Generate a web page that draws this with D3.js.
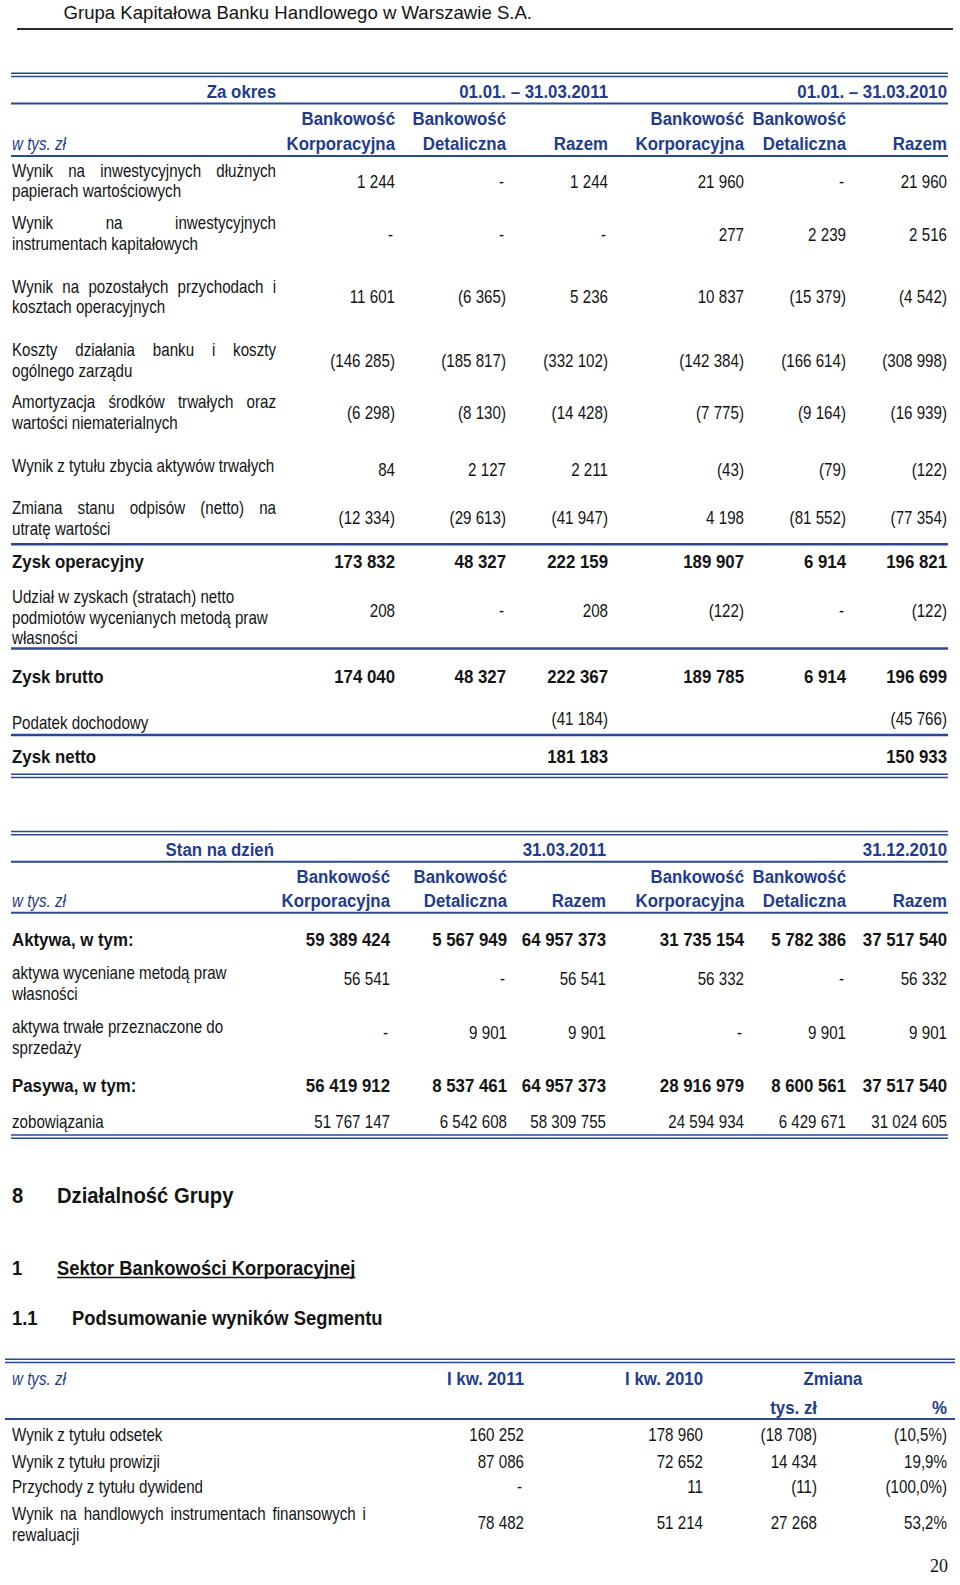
<!DOCTYPE html>
<meta charset="utf-8">
<head>
    <title>Grupa Kapitałowa Banku Handlowego - segmenty</title>
    <script src="https://d3js.org/d3.v7.min.js"></script>
    <style>
    body { margin: 0; background: #fff; }
    svg text { font-family: "Liberation Sans", Arial, sans-serif; }
    </style>
</head>
<body>
<script>

// ---- data: table 1 (rachunek wyników wg segmentów) ----
var t1Title = "Za okres";
var t1Periods = ["01.01. – 31.03.2011", "01.01. – 31.03.2010"];
var segHead1 = ["Bankowość", "Bankowość", ""];
var segHead2 = ["Korporacyjna", "Detaliczna", "Razem"];
var unitLabel = "w tys. zł";
var t1Labels = [
  "Wynik na inwestycyjnych dłużnych|papierach wartościowych",
  "Wynik na inwestycyjnych|instrumentach kapitałowych",
  "Wynik na pozostałych przychodach i|kosztach operacyjnych",
  "Koszty działania banku i koszty|ogólnego zarządu",
  "Amortyzacja środków trwałych oraz|wartości niematerialnych",
  "Wynik z tytułu zbycia aktywów trwałych",
  "Zmiana stanu odpisów (netto) na|utratę wartości",
  "Zysk operacyjny",
  "Udział w zyskach (stratach) netto|podmiotów wycenianych metodą praw|własności",
  "Zysk brutto",
  "Podatek dochodowy",
  "Zysk netto"
];
// 0 = "-", null = empty cell
var t1Korp2011  = [1244, 0, 11601, -146285, -6298, 84, -12334, 173832, 208, 174040, null, null];
var t1Det2011   = [0, 0, -6365, -185817, -8130, 2127, -29613, 48327, 0, 48327, null, null];
var t1Razem2011 = [1244, 0, 5236, -332102, -14428, 2211, -41947, 222159, 208, 222367, -41184, 181183];
var t1Korp2010  = [21960, 277, 10837, -142384, -7775, -43, 4198, 189907, -122, 189785, null, null];
var t1Det2010   = [0, 2239, -15379, -166614, -9164, -79, -81552, 6914, 0, 6914, null, null];
var t1Razem2010 = [21960, 2516, -4542, -308998, -16939, -122, -77354, 196821, -122, 196699, -45766, 150933];

// ---- data: table 2 (aktywa / pasywa) ----
var t2Title = "Stan na dzień";
var t2Dates = ["31.03.2011", "31.12.2010"];
var t2Labels = [
  "Aktywa, w tym:",
  "aktywa wyceniane metodą praw|własności",
  "aktywa trwałe przeznaczone do|sprzedaży",
  "Pasywa, w tym:",
  "zobowiązania"
];
var t2Korp2011  = [59389424, 56541, 0, 56419912, 51767147];
var t2Det2011   = [5567949, 0, 9901, 8537461, 6542608];
var t2Razem2011 = [64957373, 56541, 9901, 64957373, 58309755];
var t2Korp2010  = [31735154, 56332, 0, 28916979, 24594934];
var t2Det2010   = [5782386, 0, 9901, 8600561, 6429671];
var t2Razem2010 = [37517540, 56332, 9901, 37517540, 31024605];

// ---- data: table 3 (podsumowanie segmentu) ----
var t3Quarters = ["I kw. 2011", "I kw. 2010"];
var t3Change = ["Zmiana", "tys. zł", "%"];
var t3Labels = [
  "Wynik z tytułu odsetek",
  "Wynik z tytułu prowizji",
  "Przychody z tytułu dywidend",
  "Wynik na handlowych instrumentach finansowych i|rewaluacji"
];
var t3Q2011 = [160252, 87086, 0, 78482];
var t3Q2010 = [178960, 72652, 11, 51214];
var t3Diff  = [-18708, 14434, -11, 27268];
var t3Pct   = [-10.5, 19.9, -100.0, 53.2];

// ---- headings ----
var pageHeader = "Grupa Kapitałowa Banku Handlowego w Warszawie S.A.";
var headings = [
  {num: "8", text: "Działalność Grupy"},
  {num: "1", text: "Sektor Bankowości Korporacyjnej"},
  {num: "1.1", text: "Podsumowanie wyników Segmentu"}
];
var pageNumber = "20";

// ---- layout ----
var W = 960, H = 1585;
var BLUE = "#1f3c8e", LINE = "#2a4896", INK = "#141414";
var SX = 0.865, SXB = 0.91;   // horizontal squeeze of the document font
var FS = 17.5, FSB = 18.5;

var loc = d3.formatLocale({decimal: ",", thousands: " ", grouping: [3], currency: ["", ""]});
var fInt = loc.format(",d"), fPct = loc.format(".1f");
function cell(v) {
  if (v === null) return "";
  if (v === 0) return "-";
  return v < 0 ? "(" + fInt(-v) + ")" : fInt(v);
}
function pct(v) { return v < 0 ? "(" + fPct(-v) + "%)" : fPct(v) + "%"; }

var svg = d3.select("body").append("svg")
    .attr("width", W)
    .attr("height", H);

function txt(s, x, y, o) {
  o = o || {};
  var sx = o.sx || (o.bold ? SXB : SX);
  var t = svg.append("text")
      .attr("transform", "translate(" + x + "," + y + ") scale(" + sx + ",1)")
      .attr("text-anchor", o.anchor || "start")
      .attr("fill", o.fill || INK)
      .style("font-size", (o.size || (o.bold ? FSB : FS)) + "px")
      .style("font-weight", o.bold ? "bold" : "normal")
      .style("font-style", o.italic ? "italic" : "normal")
      .text(s);
  if (o.family) t.style("font-family", o.family);
  return t;
}

// justified line between x0 and x1
function justify(s, x0, x1, y) {
  var words = s.split(" ");
  var t = svg.append("text")
      .attr("transform", "translate(" + x0 + "," + y + ") scale(" + SX + ",1)")
      .attr("fill", INK)
      .style("font-size", FS + "px");
  var spans = words.map(function(w) { return t.append("tspan").text(w); });
  var widths = spans.map(function(sp) { return sp.node().getComputedTextLength(); });
  var gap = ((x1 - x0) / SX - d3.sum(widths)) / (words.length - 1);
  var cx = 0;
  spans.forEach(function(sp, i) { sp.attr("x", cx); cx += widths[i] + gap; });
}

function hline(x0, x1, y, w, c) {
  svg.append("line").attr("x1", x0).attr("x2", x1).attr("y1", y).attr("y2", y)
    .attr("stroke", c || LINE).attr("stroke-width", w);
}
function dline(x0, x1, y) { hline(x0, x1, y, 1.4); hline(x0, x1, y + 3.2, 1.4); }

// column right edges
var colKeys = ["k11", "d11", "r11", "k10", "d10", "r10"];
var x1 = d3.scaleOrdinal().domain(colKeys).range([395, 506, 608, 744, 846, 947]);
var x2 = d3.scaleOrdinal().domain(colKeys).range([390, 507, 606, 744, 846, 947]);
var x3 = d3.scaleOrdinal().domain(["q11", "q10", "diff", "pct"]).range([524, 703, 817, 947]);

// ---- page header ----
txt(pageHeader, 63.5, 18.5, {size: 18.6, sx: 1});
hline(17, 953, 29, 2, "#2a2a2a");

// ---- table 1 ----
var T1L = 11, T1R = 948, LAB_R = 276;
dline(T1L, T1R, 73.3);
txt(t1Title, LAB_R, 97.7, {bold: true, fill: BLUE, anchor: "end"});
t1Periods.forEach(function(p, i) {
  txt(p, x1(i ? "r10" : "r11"), 97.7, {bold: true, fill: BLUE, anchor: "end"});
});
hline(T1L, T1R, 103.5, 2);
colKeys.forEach(function(k, i) {
  txt(segHead1[i % 3], x1(k), 125, {bold: true, fill: BLUE, anchor: "end"});
  txt(segHead2[i % 3], x1(k), 150, {bold: true, fill: BLUE, anchor: "end"});
});
txt(unitLabel, 12, 150, {italic: true, fill: BLUE});
hline(T1L, T1R, 156, 2);

var t1Cols = [t1Korp2011, t1Det2011, t1Razem2011, t1Korp2010, t1Det2010, t1Razem2010];
var t1LabelY = [176.7, 229.3, 292.7, 356, 408.3, 471.7, 514, 568.3, 603, 683.3, 729.3, 762.7];
var t1ValueY = [187.7, 241, 303.3, 367.3, 419.3, 476, 524, 568.3, 617, 683.3, 725, 762.7];
var t1Bold = [0, 0, 0, 0, 0, 0, 0, 1, 0, 1, 0, 1];
var t1Just = [1, 1, 1, 1, 1, 0, 1, 0, 0, 0, 0, 0];

t1Labels.forEach(function(lab, r) {
  var lines = lab.split("|");
  lines.forEach(function(ln, j) {
    var y = t1LabelY[r] + j * 20.6;
    if (t1Just[r] && j < lines.length - 1) justify(ln, 12, LAB_R, y);
    else txt(ln, 12, y, {bold: !!t1Bold[r]});
  });
  t1Cols.forEach(function(col, c) {
    var s = cell(col[r]);
    txt(s, x1(colKeys[c]) - (s === "-" ? 2 : 0), t1ValueY[r], {anchor: "end", bold: !!t1Bold[r]});
  });
});
hline(T1L, T1R, 544.3, 2.4);
hline(T1L, T1R, 648.5, 2.4);
hline(T1L, T1R, 735, 2.4);
dline(T1L, T1R, 774.3);

// ---- table 2 ----
dline(T1L, T1R, 831.5);
txt(t2Title, 274, 856, {bold: true, fill: BLUE, anchor: "end"});
t2Dates.forEach(function(p, i) {
  txt(p, x2(i ? "r10" : "r11"), 856, {bold: true, fill: BLUE, anchor: "end"});
});
hline(T1L, T1R, 861.7, 2);
colKeys.forEach(function(k, i) {
  txt(segHead1[i % 3], x2(k), 883.3, {bold: true, fill: BLUE, anchor: "end"});
  txt(segHead2[i % 3], x2(k), 906.7, {bold: true, fill: BLUE, anchor: "end"});
});
txt(unitLabel, 12, 906.7, {italic: true, fill: BLUE});
hline(T1L, T1R, 912.7, 2);

var t2Cols = [t2Korp2011, t2Det2011, t2Razem2011, t2Korp2010, t2Det2010, t2Razem2010];
var t2LabelY = [946, 979.3, 1033.3, 1091.7, 1128.3];
var t2ValueY = [946, 985, 1039.3, 1091.7, 1128.3];
var t2Bold = [1, 0, 0, 1, 0];
t2Labels.forEach(function(lab, r) {
  lab.split("|").forEach(function(ln, j) {
    txt(ln, 12, t2LabelY[r] + j * 20.7, {bold: !!t2Bold[r]});
  });
  t2Cols.forEach(function(col, c) {
    var s = cell(col[r]);
    txt(s, x2(colKeys[c]) - (s === "-" ? 2 : 0), t2ValueY[r], {anchor: "end", bold: !!t2Bold[r]});
  });
});
dline(T1L, T1R, 1135);

// ---- headings ----
var headY = [1203.3, 1275, 1325];
var headX = [57, 57, 72];
var headSize = [22, 20, 20];
headings.forEach(function(h, i) {
  txt(h.num, 12, headY[i], {bold: true, size: headSize[i], sx: 0.92});
  var t = txt(h.text, headX[i], headY[i], {bold: true, size: headSize[i], sx: 0.92});
  if (i === 1) {
    var w = t.node().getComputedTextLength() * 0.92;
    hline(headX[i], headX[i] + w, headY[i] + 2.6, 1.5, INK);
  }
});

// ---- table 3 ----
var T3L = 5, T3R = 955;
dline(T3L, T3R, 1359.3);
txt(unitLabel, 12, 1385, {italic: true, fill: BLUE});
t3Quarters.forEach(function(q, i) {
  txt(q, x3(i ? "q10" : "q11"), 1385, {bold: true, fill: BLUE, anchor: "end"});
});
txt(t3Change[0], 833, 1385, {bold: true, fill: BLUE, anchor: "middle"});
txt(t3Change[1], x3("diff"), 1414, {bold: true, fill: BLUE, anchor: "end"});
txt(t3Change[2], x3("pct"), 1414, {bold: true, fill: BLUE, anchor: "end"});
hline(T3L, T3R, 1419, 2);

var t3LabelY = [1441, 1467.7, 1493.3, 1520];
var t3ValueY = [1441, 1467.7, 1493.3, 1529.3];
t3Labels.forEach(function(lab, r) {
  var lines = lab.split("|");
  lines.forEach(function(ln, j) {
    var y = t3LabelY[r] + j * 20.5;
    if (j < lines.length - 1) justify(ln, 12, 366, y);
    else txt(ln, 12, y);
  });
  var s1 = cell(t3Q2011[r]);
  txt(s1, x3("q11") - (s1 === "-" ? 2 : 0), t3ValueY[r], {anchor: "end"});
  txt(cell(t3Q2010[r]), x3("q10"), t3ValueY[r], {anchor: "end"});
  txt(cell(t3Diff[r]), x3("diff"), t3ValueY[r], {anchor: "end"});
  txt(pct(t3Pct[r]), x3("pct"), t3ValueY[r], {anchor: "end"});
});

// page number
txt(pageNumber, 948, 1572, {anchor: "end", size: 18, sx: 1, family: "'Liberation Serif', 'Times New Roman', serif"});

</script>
</body>
